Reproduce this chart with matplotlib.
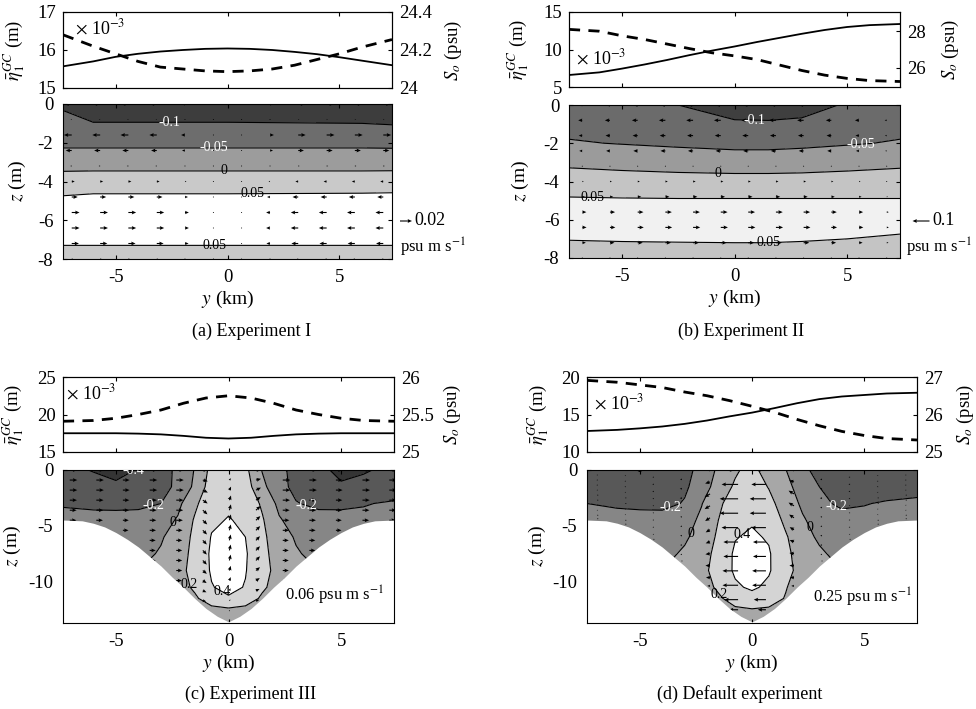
import numpy as np
import matplotlib
matplotlib.use("Agg")
import matplotlib.pyplot as plt
from matplotlib.ticker import FuncFormatter

plt.rcParams['font.family'] = ['Liberation Serif', 'DejaVu Serif']
plt.rcParams['mathtext.fontset'] = 'stix'
plt.rcParams['axes.unicode_minus'] = False
plt.rcParams['xtick.direction'] = 'in'
plt.rcParams['ytick.direction'] = 'in'
plt.rcParams['axes.linewidth'] = 0.8

# ---------------- top panels: interface height and salinity ----------------
y_top = [-7.35, -6, -5, -4, -3, -2, -1, 0, 1, 2, 3, 4, 5, 6, 7.35]  # km

eta_a = [15.57, 15.70, 15.82, 15.90, 15.96, 16.00, 16.03, 16.04, 16.03, 16.00, 15.95, 15.89, 15.81, 15.72, 15.60]
S_a = [24.28, 24.22, 24.18, 24.14, 24.11, 24.10, 24.09, 24.086, 24.09, 24.10, 24.12, 24.15, 24.18, 24.215, 24.255]

eta_b = [6.6, 6.95, 7.45, 8.0, 8.6, 9.25, 9.85, 10.4, 11.0, 11.55, 12.1, 12.6, 13.0, 13.25, 13.4]
S_b = [28.1, 28.0, 27.75, 27.55, 27.3, 27.05, 26.82, 26.65, 26.45, 26.15, 25.85, 25.6, 25.42, 25.3, 25.25]

eta_c = [17.5, 17.5, 17.5, 17.45, 17.35, 17.15, 16.9, 16.8, 16.9, 17.15, 17.35, 17.45, 17.5, 17.5, 17.5]
S_c = [25.41, 25.42, 25.45, 25.5, 25.56, 25.65, 25.72, 25.75, 25.72, 25.65, 25.56, 25.5, 25.45, 25.42, 25.41]

eta_d = [12.8, 12.95, 13.15, 13.4, 13.75, 14.2, 14.75, 15.25, 15.85, 16.5, 17.05, 17.4, 17.6, 17.8, 17.9]
S_d = [26.91, 26.86, 26.79, 26.72, 26.6, 26.5, 26.37, 26.22, 26.06, 25.87, 25.7, 25.55, 25.44, 25.36, 25.32]

# ---------------- salt flux fields (psu m s-1) ----------------
z_ab = [0, -1, -2, -3, -4, -5, -6, -7, -8]

y_fa = [-7.35, -6, 0, 6, 7.35]
flux_a = [
    [-0.105, -0.15, -0.15, -0.15, -0.15],
    [-0.09, -0.097, -0.097, -0.10, -0.103],
    [-0.061, -0.061, -0.061, -0.061, -0.062],
    [-0.02, -0.02, -0.02, -0.02, -0.02],
    [0.022, 0.024, 0.024, 0.024, 0.025],
    [0.06, 0.065, 0.065, 0.067, 0.068],
    [0.072, 0.075, 0.075, 0.075, 0.075],
    [0.058, 0.058, 0.058, 0.058, 0.058],
    [0.031, 0.031, 0.031, 0.031, 0.031],
]

y_fb = [-7.35, -5, -2.5, 0, 1.5, 3, 5, 7.35]
flux_b = [
    [-0.08, -0.09, -0.10, -0.12, -0.125, -0.12, -0.095, -0.085],
    [-0.065, -0.07, -0.08, -0.094, -0.094, -0.09, -0.075, -0.065],
    [-0.046, -0.052, -0.058, -0.063, -0.063, -0.06, -0.054, -0.046],
    [-0.008, -0.014, -0.02, -0.025, -0.025, -0.022, -0.015, -0.008],
    [0.02, 0.019, 0.018, 0.018, 0.018, 0.018, 0.018, 0.018],
    [0.057, 0.055, 0.054, 0.054, 0.054, 0.054, 0.054, 0.054],
    [0.068, 0.068, 0.068, 0.068, 0.068, 0.067, 0.065, 0.062],
    [0.052, 0.054, 0.055, 0.056, 0.056, 0.054, 0.05, 0.046],
    [0.024, 0.025, 0.026, 0.026, 0.026, 0.024, 0.022, 0.02],
]

y_fcd = [-7.35, -6, -5, -4, -3, -2.25, -1.5, -0.75, 0, 0.75, 1.5, 2.25, 3, 4, 5, 6, 7.35]
z_cd = [0, -1.5, -3, -4.5, -6, -7.5, -9, -10.5, -11.5, -12.5, -13.7]
flux_c = [
    [-0.35, -0.41, -0.45, -0.39, -0.26, -0.17, 0.01, 0.26, 0.32, 0.25, -0.01, -0.15, -0.26, -0.36, -0.44, -0.42, -0.35],
    [-0.30, -0.33, -0.37, -0.34, -0.25, -0.17, 0.04, 0.30, 0.34, 0.29, 0.05, -0.14, -0.25, -0.32, -0.38, -0.34, -0.30],
    [-0.215, -0.225, -0.235, -0.24, -0.20, -0.05, 0.16, 0.34, 0.37, 0.34, 0.17, -0.05, -0.19, -0.24, -0.23, -0.21, -0.18],
    [-0.15, -0.16, -0.15, -0.13, -0.08, 0.02, 0.22, 0.37, 0.41, 0.37, 0.22, 0.02, -0.08, -0.13, -0.15, -0.16, -0.15],
    [-0.12, -0.12, -0.10, -0.08, -0.02, 0.09, 0.24, 0.41, 0.46, 0.40, 0.24, 0.09, -0.02, -0.08, -0.10, -0.12, -0.12],
    [-0.10, -0.10, -0.08, -0.06, 0.02, 0.12, 0.25, 0.43, 0.48, 0.42, 0.25, 0.12, 0.02, -0.06, -0.08, -0.10, -0.10],
    [-0.10, -0.08, -0.05, 0.00, 0.08, 0.14, 0.26, 0.42, 0.47, 0.41, 0.26, 0.14, 0.08, 0.00, -0.05, -0.08, -0.10],
    [-0.10, -0.08, -0.05, 0.00, 0.06, 0.12, 0.23, 0.39, 0.45, 0.39, 0.23, 0.12, 0.06, 0.00, -0.05, -0.08, -0.10],
    [-0.10, -0.08, -0.05, 0.00, 0.06, 0.12, 0.17, 0.30, 0.38, 0.30, 0.17, 0.12, 0.06, 0.00, -0.05, -0.08, -0.10],
    [-0.10, -0.08, -0.05, 0.00, 0.05, 0.09, 0.12, 0.15, 0.17, 0.15, 0.12, 0.09, 0.05, 0.00, -0.05, -0.08, -0.10],
    [-0.10, -0.08, -0.05, 0.00, 0.04, 0.06, 0.08, 0.10, 0.12, 0.10, 0.08, 0.06, 0.04, 0.00, -0.05, -0.08, -0.10],
]
flux_d = [
    [-0.30, -0.33, -0.41, -0.34, -0.26, -0.14, 0.035, 0.18, 0.25, 0.12, 0.005, -0.15, -0.27, -0.33, -0.34, -0.33, -0.31],
    [-0.28, -0.30, -0.30, -0.30, -0.22, -0.14, 0.12, 0.22, 0.30, 0.19, 0.04, -0.06, -0.20, -0.29, -0.30, -0.30, -0.29],
    [-0.20, -0.22, -0.23, -0.24, -0.19, -0.01, 0.17, 0.28, 0.34, 0.26, 0.10, -0.03, -0.15, -0.24, -0.21, -0.18, -0.15],
    [-0.14, -0.15, -0.15, -0.14, -0.08, 0.04, 0.20, 0.33, 0.38, 0.32, 0.16, 0.02, -0.07, -0.12, -0.14, -0.14, -0.14],
    [-0.12, -0.12, -0.12, -0.10, -0.03, 0.08, 0.23, 0.39, 0.43, 0.38, 0.22, 0.07, -0.03, -0.10, -0.12, -0.12, -0.12],
    [-0.10, -0.10, -0.10, -0.06, 0.03, 0.12, 0.26, 0.43, 0.47, 0.42, 0.24, 0.12, 0.03, -0.06, -0.10, -0.10, -0.10],
    [-0.10, -0.08, -0.05, 0.00, 0.08, 0.15, 0.27, 0.43, 0.47, 0.42, 0.25, 0.14, 0.08, 0.00, -0.05, -0.08, -0.10],
    [-0.10, -0.08, -0.05, 0.00, 0.06, 0.12, 0.23, 0.37, 0.43, 0.36, 0.21, 0.11, 0.06, 0.00, -0.05, -0.08, -0.10],
    [-0.10, -0.08, -0.05, 0.00, 0.06, 0.11, 0.17, 0.28, 0.33, 0.27, 0.19, 0.11, 0.06, 0.00, -0.05, -0.08, -0.10],
    [-0.10, -0.08, -0.05, 0.00, 0.05, 0.09, 0.12, 0.17, 0.19, 0.18, 0.13, 0.09, 0.05, 0.00, -0.05, -0.08, -0.10],
    [-0.10, -0.08, -0.05, 0.00, 0.04, 0.06, 0.09, 0.11, 0.13, 0.11, 0.09, 0.06, 0.04, 0.00, -0.05, -0.08, -0.10],
]

# channel bathymetry for experiment III / default (depth in m)
y_bath = [-7.35, -6.5, -6, -5.5, -5, -4.5, -4, -3.5, -3, -2.5, -2, -1.5, -1, -0.5, 0,
          0.5, 1, 1.5, 2, 2.5, 3, 3.5, 4, 4.5, 5, 5.5, 6, 6.5, 7.35]
h_bath = [4.48, 4.55, 4.77, 5.1, 5.6, 6.2, 6.9, 7.75, 8.6, 9.6, 10.5, 11.5, 12.4, 13.1, 13.6,
          13.1, 12.4, 11.5, 10.5, 9.6, 8.6, 7.75, 6.9, 6.2, 5.6, 5.1, 4.77, 4.55, 4.48]

# ---------------- flux vectors ----------------
qz_ab = [0, -0.8, -1.6, -2.4, -3.2, -4.0, -4.8, -5.6, -6.4, -7.2, -8.0]
qy_a = [-6.96, -5.69, -4.43, -3.16, -1.9, -0.63, 0.63, 1.9, 3.16, 4.43, 5.69, 6.96]
row_u_a = [0.012, 0.002, 0.013, 0.01, 0.0025, -0.005, -0.01, -0.013, -0.013, -0.012, -0.0025]
col_u_a = [-1, -1, -1, -0.95, -0.5, -0.1, 0.1, 0.5, 0.95, 1, 1, 1]

qy_b = [-6.76, -5.53, -4.3, -3.07, -1.84, -0.61, 0.61, 1.84, 3.07, 4.3, 5.53, 6.76]
row_u_b = [-0.03, -0.04, -0.035, -0.03, -0.006, 0.015, 0.025, 0.04, 0.042, 0.035, 0.006]
col_u_b = [0.6, 0.75, 0.85, 0.95, 1, 1, 1, 1, 0.95, 0.8, 0.6, 0.3]

qy_c = [-7.05, -5.87, -4.69, -3.5, -2.32, -1.14, 0.04, 1.22, 2.41, 3.59, 4.77, 5.95, 7.14]
qz_c = [0, -0.9, -1.8, -2.7, -3.6, -4.5, -5.4, -6.3, -7.2, -8.1, -9.0, -9.9, -10.8, -11.7, -12.6, -13.5]
row_u_c = [0.05, 0.05, 0.05, 0.048, 0.046, 0.044, 0.042, 0.04, 0.04, 0.04, 0.04, 0.038, 0.036, 0.034, 0.03, 0.025]
col_u_c = [0.9, 0.9, 0.8, 0.9, 0.9, 0.6, 0.2, 0.6, 0.9, 0.9, 0.8, 0.9, 0.9]
row_v_c = [0, 0.3, 0.6, 0.8, 1, 1, 1, 1, 1, 1, 0.8, 0.6, 0.4, 0.2, 0, 0]
col_v_c = [0, 0, 0, 0, 0, -0.025, 0.035, 0.025, 0, 0, 0, 0, 0]

qy_d = [-6.87, -5.62, -4.37, -3.12, -1.87, -0.62, 0.62, 1.87, 3.12, 4.37, 5.62, 6.87]
depth_qd = [4.5, 5.0, 6.4, 8.4, 10.7, 12.9, 12.9, 10.7, 8.4, 6.4, 5.0, 4.5]
sigma_d = [0, -0.1, -0.2, -0.3, -0.4, -0.5, -0.6, -0.7, -0.8, -0.9, -0.97]
row_u_d = [0.6, 0.9, 1.0, 1.0, 0.9, 0.8, 0.8, 0.85, 0.85, 0.75, 0.5]
col_u_d = [-0.012, -0.012, -0.015, -0.02, -0.05, -0.17, -0.15, -0.05, -0.02, -0.015, -0.012, -0.012]
row_v_d = [0, 0.5, 1, 1, 1, 0.8, 0.5, 0.2, 0, 0, 0]
col_v_d = [0, 0, 0, 0, -0.03, 0, 0, 0.03, 0, 0, 0, 0]

W, H = 976, 709
fig = plt.figure(figsize=(W / 100, H / 100), dpi=100)


def rect(x0, y0, x1, y1):
    # pixel box -> figure fraction
    return [x0 / W, 1 - y1 / H, (x1 - x0) / W, (y1 - y0) / H]


def top_panel(box, eta, salt, elim, eticks, slim, sticks, exp_pos, lab_x, rlab_x):
    ax = fig.add_axes(rect(*box))
    ax.plot(y_top, eta, color='k', lw=1.3)
    ax.set_xlim(-7.35, 7.35)
    ax.set_ylim(*elim)
    ax.set_yticks(eticks)
    ax.set_xticks([-5, 0, 5])
    ax.tick_params(labelbottom=False, top=True, right=False, labelsize=13.5, length=3, pad=5)
    ax.set_ylabel(r'$\bar{\eta}_1^{GC}$ (m)', fontsize=13.5)
    ax.yaxis.set_label_coords(lab_x, 0.5)
    ax.text(exp_pos[0], exp_pos[1], r'$\times$ 10$^{-3}$', transform=ax.transAxes,
            fontsize=13, va='center', ha='left')
    ax2 = ax.twinx()
    ax2.plot(y_top, salt, color='k', lw=2.0, ls=(0, (4, 3)))
    ax2.set_ylim(*slim)
    ax2.set_yticks(sticks)
    ax2.yaxis.set_major_formatter(FuncFormatter(lambda v, p: '%g' % v))
    ax2.tick_params(labelsize=13.5, length=3, pad=5, direction='in')
    ax2.set_ylabel(r'$S_o$ (psu)', fontsize=13.5)
    ax2.yaxis.set_label_coords(rlab_x, 0.5)


def flux_panel(box, yf, zf, flux, levels, colors, zlim, zticks, Yq, Zq, u, v, scale,
               spots, zlab_x, land=False):
    ax = fig.add_axes(rect(*box))
    ax.contourf(yf, zf, flux, levels=levels, colors=colors, zorder=1)
    cs = ax.contour(yf, zf, flux, levels=levels[1:-1], colors='k', linewidths=0.8,
                    linestyles='solid', zorder=2.1)
    q = ax.quiver(Yq, Zq, u, v, units='dots', width=1.1, headwidth=3.5, headlength=4,
                  headaxislength=3.5, scale_units='dots', scale=scale, color='k', zorder=2.2)
    if land:
        ax.fill_between(y_bath, -np.array(h_bath), -20, color='white', lw=0, zorder=2.4)
    txts = ax.clabel(cs, manual=spots, inline=False, fontsize=10, colors='k', fmt='%g')
    for t in txts:
        t.set_zorder(3)
        t.set_rotation(0)
        if t.get_text().startswith('-'):
            t.set_color('white')
    ax.set_xlim(-7.35, 7.35)
    ax.set_ylim(*zlim)
    ax.set_xticks([-5, 0, 5])
    ax.set_yticks(zticks)
    ax.tick_params(top=True, right=True, labelsize=13.5, length=3, pad=7)
    ax.set_xlabel(r'$y$ (km)', fontsize=14, labelpad=2)
    ax.set_ylabel(r'$z$ (m)', fontsize=14)
    ax.yaxis.set_label_coords(zlab_x, 0.5)
    return ax, q


ab_levels = [-1, -0.1, -0.05, 0, 0.05, 1]
cd_levels = [-1, -0.4, -0.2, 0, 0.2, 0.4, 1]
cd_colors = ['#343434', '#585858', '#868686', '#a7a7a7', '#d4d4d4', '#ffffff']

# ---- (a) ----
top_panel((63, 12, 392, 88), eta_a, S_a, (15, 17), [15, 16, 17], (24, 24.4), [24, 24.2, 24.4],
          (0.035, 0.79), -0.108, 1.155)
Yq, Zq = np.meshgrid(qy_a, qz_ab)
ax, q = flux_panel((63, 104, 392, 259), y_fa, z_ab, flux_a, ab_levels,
                   ['#3d3d3d', '#6d6d6d', '#9c9c9c', '#c9c9c9', '#ffffff'], (-8, 0), [-8, -6, -4, -2, 0],
                   Yq, Zq, np.outer(row_u_a, col_u_a), np.zeros((11, 12)), 0.02 / 12,
                   [(-2.6, -0.9), (-0.6, -2.3), (-0.15, -3.45), (1.1, -4.6), (-0.6, -7.3)],
                   -0.106)
ax.quiverkey(q, 406 / W, 1 - 221 / H, 0.02, '', labelpos='N', coordinates='figure')
fig.text(414 / W, 1 - 221 / H, '0.02', fontsize=13, va='center', ha='left')
fig.text(400 / W, 1 - 247 / H, r'psu m s$^{-1}$', fontsize=12, va='center', ha='left')
fig.text(252 / W, 1 - 331 / H, '(a) Experiment I', fontsize=13, ha='center', va='center')

# ---- (b) ----
top_panel((569, 12, 900, 87), eta_b, S_b, (5, 15), [5, 10, 15], (24.95, 29.05), [26, 28],
          (0.02, 0.39), -0.115, 1.12)
Yq, Zq = np.meshgrid(qy_b, qz_ab)
ax, q = flux_panel((569, 105, 900, 258), y_fb, z_ab, flux_b, ab_levels,
                   ['#3f3f3f', '#6b6b6b', '#9b9b9b', '#c4c4c4', '#f1f1f1'], (-8, 0), [-8, -6, -4, -2, 0],
                   Yq, Zq, np.outer(row_u_b, col_u_b), np.zeros((11, 12)), 0.1 / 17,
                   [(0.9, -0.7), (5.6, -1.95), (-0.75, -3.55), (-6.3, -4.8), (1.5, -7.2)],
                   -0.115)
ax.quiverkey(q, 921 / W, 1 - 221 / H, 0.1, '', labelpos='N', coordinates='figure', angle=180)
fig.text(932 / W, 1 - 221 / H, '0.1', fontsize=13, va='center', ha='left')
fig.text(906 / W, 1 - 247 / H, r'psu m s$^{-1}$', fontsize=12, va='center', ha='left')
fig.text(741 / W, 1 - 331 / H, '(b) Experiment II', fontsize=13, ha='center', va='center')

# ---- (c) ----
top_panel((63, 377, 394, 452), eta_c, S_c, (15, 25), [15, 20, 25], (25, 26), [25, 25.5, 26],
          (0.01, 0.79), -0.112, 1.145)
Yq, Zq = np.meshgrid(qy_c, qz_c)
ax, q = flux_panel((63, 470, 394, 623), y_fcd, z_cd, flux_c, cd_levels, cd_colors,
                   (-13.7, 0), [-10, -5, 0],
                   Yq, Zq, np.outer(row_u_c, col_u_c), np.outer(row_v_c, col_v_c), 0.06 / 10,
                   [(-4.0, -0.9), (-3.3, -3.6), (3.5, -2.8), (-2.4, -4.8), (-1.6, -10.2), (-0.3, -11.0)],
                   -0.12, land=True)
ax.quiverkey(q, 338 / W, 1 - 580 / H, 0.06, '', labelpos='N', coordinates='figure')
fig.text(285 / W, 1 - 595 / H, r'0.06 psu m s$^{-1}$', fontsize=12, va='center', ha='left')
fig.text(251 / W, 1 - 694 / H, '(c) Experiment III', fontsize=13, ha='center', va='center')

# ---- (d) ----
top_panel((587, 377, 917, 452), eta_d, S_d, (10, 20), [10, 15, 20], (25, 27), [25, 26, 27],
          (0.02, 0.65), -0.11, 1.115)
Yq = np.tile(qy_d, (len(sigma_d), 1))
Zq = np.outer(sigma_d, depth_qd)
ax, q = flux_panel((587, 470, 917, 623), y_fcd, z_cd, flux_d, cd_levels, cd_colors,
                   (-13.7, 0), [-10, -5, 0],
                   Yq, Zq, np.outer(row_u_d, col_u_d), np.outer(row_v_d, col_v_d), 0.25 / 27,
                   [(-3.6, -3.6), (3.8, -3.1), (-2.7, -5.7), (2.5, -5.2), (-0.5, -5.6), (-1.5, -11.2)],
                   -0.118, land=True)
ax.quiverkey(q, 871 / W, 1 - 583 / H, 0.25, '', labelpos='N', coordinates='figure', angle=180)
fig.text(813 / W, 1 - 597 / H, r'0.25 psu m s$^{-1}$', fontsize=12, va='center', ha='left')
fig.text(740 / W, 1 - 694 / H, '(d) Default experiment', fontsize=13, ha='center', va='center')

fig.savefig('out.png', dpi=100)
